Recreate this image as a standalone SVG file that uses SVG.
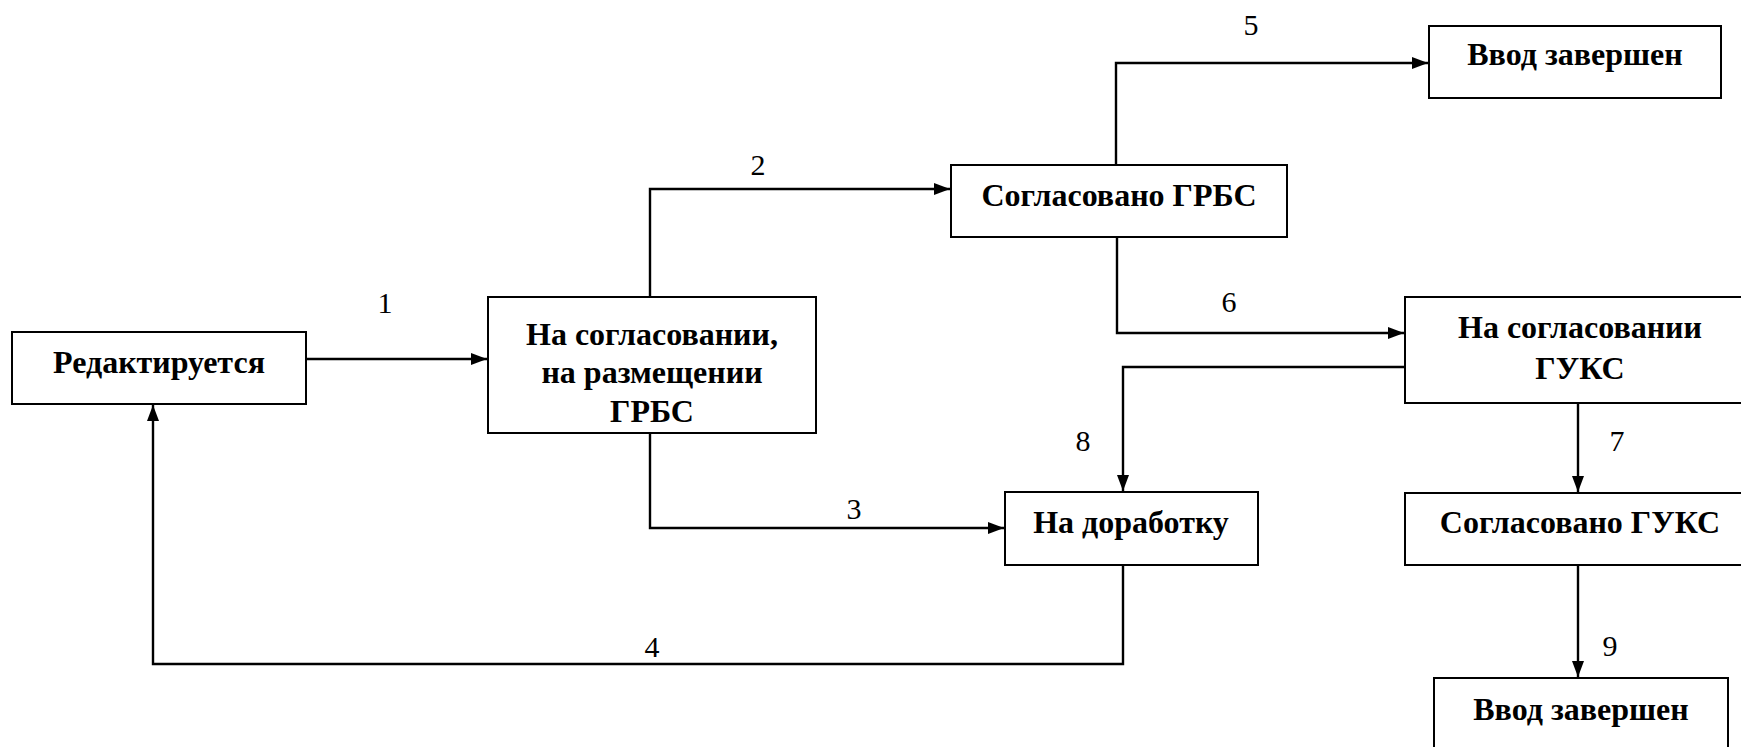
<svg xmlns="http://www.w3.org/2000/svg" width="1741" height="747" viewBox="0 0 1741 747">
<style>
.box{fill:#fff;stroke:#000;stroke-width:2}
.t{font-family:"Liberation Serif","Times New Roman",serif;font-weight:bold;font-size:32px;text-anchor:middle;fill:#000}
.n{font-family:"Liberation Serif","Times New Roman",serif;font-size:30px;text-anchor:middle;fill:#000}
.c{fill:none;stroke:#000;stroke-width:2.4}
</style>
<defs>
<marker id="ah" markerUnits="userSpaceOnUse" markerWidth="18" markerHeight="14" refX="16" refY="7" orient="auto">
<path d="M0,1 L16,7 L0,13 Z" fill="#000"/>
</marker>
</defs>
<rect width="1741" height="747" fill="#fff"/>
<g id="connectors">
<path class="c" d="M306,359 H487" marker-end="url(#ah)"/>
<path class="c" d="M650,297 V189 H950" marker-end="url(#ah)"/>
<path class="c" d="M650,433 V528 H1004" marker-end="url(#ah)"/>
<path class="c" d="M1123,565 V664 H153 V405" marker-end="url(#ah)"/>
<path class="c" d="M1116,165 V63 H1428" marker-end="url(#ah)"/>
<path class="c" d="M1117,237 V333 H1404" marker-end="url(#ah)"/>
<path class="c" d="M1405,367 H1123 V491" marker-end="url(#ah)"/>
<path class="c" d="M1578,403 V492" marker-end="url(#ah)"/>
<path class="c" d="M1578,565 V677" marker-end="url(#ah)"/>
<text class="n" x="385" y="313">1</text>
<text class="n" x="758" y="175">2</text>
<text class="n" x="854" y="519">3</text>
<text class="n" x="652" y="657">4</text>
<text class="n" x="1251" y="35">5</text>
<text class="n" x="1229" y="312">6</text>
<text class="n" x="1617" y="451">7</text>
<text class="n" x="1083" y="451">8</text>
<text class="n" x="1610" y="656">9</text>
</g>
<g id="n_edit">
<rect class="box" x="12" y="332" width="294" height="72"/>
<text class="t" x="159" y="373">Редактируется</text>
</g>
<g id="n_grbs_review">
<rect class="box" x="488" y="297" width="328" height="136"/>
<text class="t" x="652" y="345">На согласовании,</text>
<text class="t" x="652" y="383">на размещении</text>
<text class="t" x="652" y="422">ГРБС</text>
</g>
<g id="n_grbs_ok">
<rect class="box" x="951" y="165" width="336" height="72"/>
<text class="t" x="1119" y="206">Согласовано ГРБС</text>
</g>
<g id="n_done1">
<rect class="box" x="1429" y="26" width="292" height="72"/>
<text class="t" x="1575" y="65">Ввод завершен</text>
</g>
<g id="n_guks_review">
<rect class="box" x="1405" y="297" width="350" height="106"/>
<text class="t" x="1580" y="338">На согласовании</text>
<text class="t" x="1580" y="379">ГУКС</text>
</g>
<g id="n_rework">
<rect class="box" x="1005" y="492" width="253" height="73"/>
<text class="t" x="1131" y="533">На доработку</text>
</g>
<g id="n_guks_ok">
<rect class="box" x="1405" y="493" width="350" height="72"/>
<text class="t" x="1580" y="533">Согласовано ГУКС</text>
</g>
<g id="n_done2">
<rect class="box" x="1434" y="678" width="294" height="90"/>
<text class="t" x="1581" y="720">Ввод завершен</text>
</g>
</svg>
